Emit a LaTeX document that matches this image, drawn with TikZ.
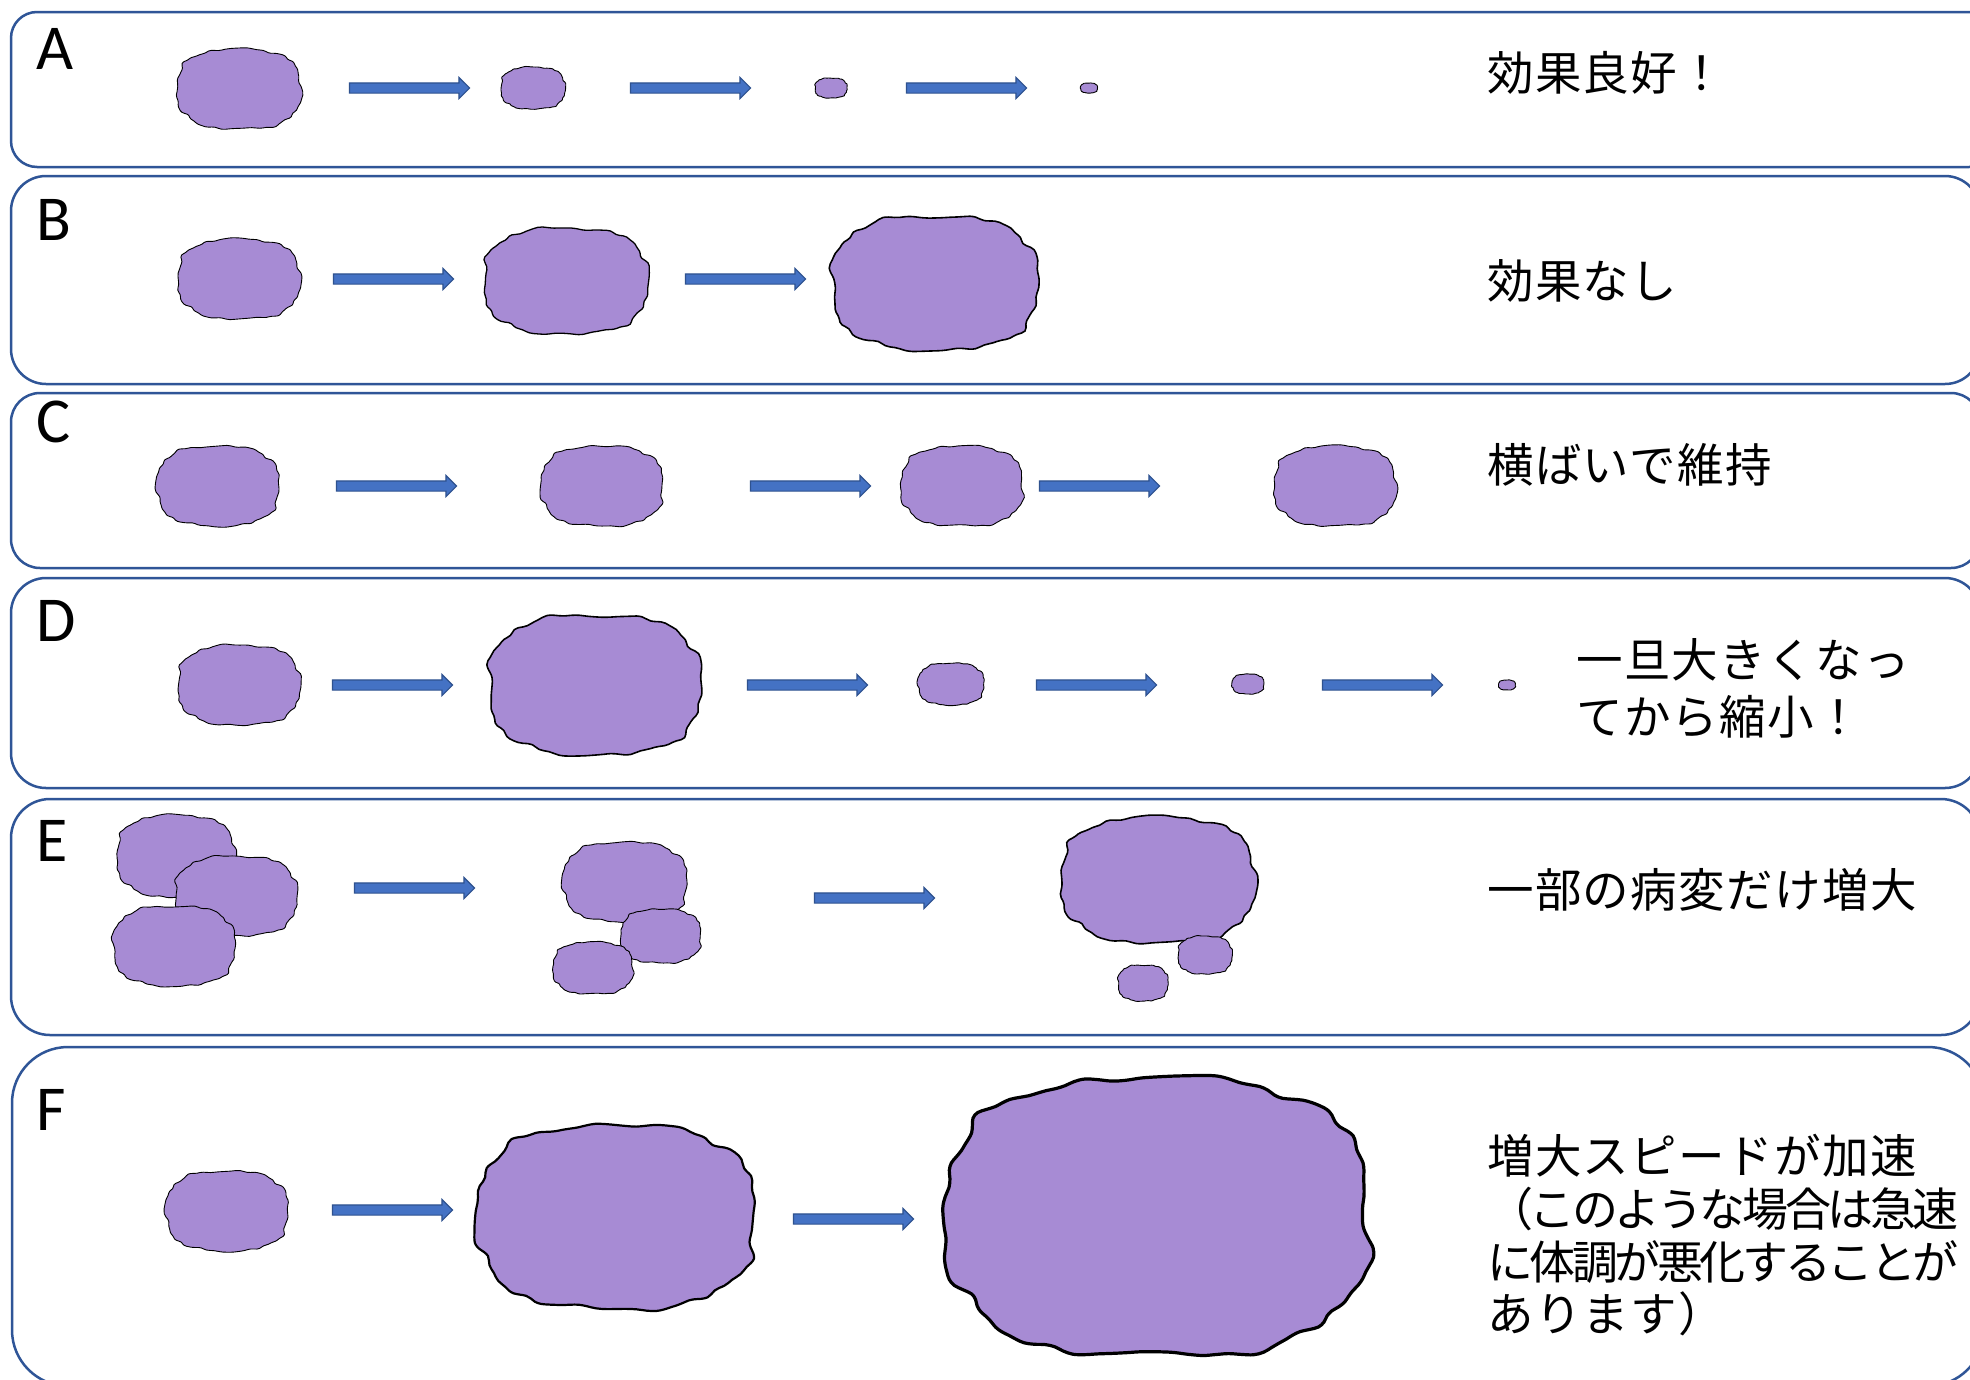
\documentclass[tikz,border=0pt]{standalone}
\usepackage{fontspec}
\usetikzlibrary{shapes.arrows}

\newfontfamily\jpfont[LetterSpace=3]{Noto Sans CJK JP}
\newfontfamily\jpnarrow[LetterSpace=-7.5]{Noto Sans CJK JP}
\newfontfamily\tagfont{Carlito}

\definecolor{lesionfill}{RGB}{167,139,212}
\definecolor{panelblue}{RGB}{47,85,151}
\definecolor{arrowfill}{RGB}{68,114,196}
\definecolor{arrowedge}{RGB}{47,82,143}

\tikzset{
  panel/.style={draw=panelblue, line width=2.5pt},
  lesion/.style={fill=lesionfill, draw=black, line width=0.9pt, line join=round},
  growth/.style={single arrow, draw=arrowedge, fill=arrowfill, line width=1.1pt,
    inner xsep=0pt, inner ysep=4.5pt, minimum height=120pt,
    single arrow head extend=5.5pt, single arrow tip angle=90},
  tag/.style={anchor=base west, inner sep=0pt, font=\tagfont\fontsize{64}{64}\selectfont},
  note/.style={anchor=base west, inner sep=0pt, font=\jpfont\fontsize{46.5}{53}\selectfont},
  notenarrow/.style={anchor=base west, inner sep=0pt, font=\jpnarrow\fontsize{46}{53}\selectfont},
}

% irregular lesion outline: squarish ellipse with a wavy rim
% #1 extra style, #2 cx, #3 cy, #4 half width, #5 half height, #6 phase
\newcommand{\rim}[1]{(1+0.017*sin(7*\t+#1)+0.013*sin(12*\t+2*#1)+0.009*sin(19*\t+3*#1)+0.006*sin(29*\t+5*#1))}
\newcommand{\lesion}[6][]{%
  \draw[lesion,#1] plot[smooth cycle, tension=0.6, variable=\t, domain=1.5:358.5, samples=120]
    ({#2 + #4*cos(\t)*pow(abs(cos(\t)),-0.25)*\rim{#6}},
     {#3 + #5*sin(\t)*pow(abs(sin(\t)),-0.25)*\rim{#6}});
}

\begin{document}
\begin{tikzpicture}[x=1pt, y=-1pt]
\useasboundingbox (0,0) rectangle (1970,1379);
\clip (0,0) rectangle (1970,1379);
\fill[white] (0,0) rectangle (1970,1379);

% panels
\draw[panel, rounded corners=26pt] (11,12) rectangle (1995,167);
\draw[panel, rounded corners=35pt] (11,176) rectangle (1980,384);
\draw[panel, rounded corners=29pt] (11,393) rectangle (1980,568);
\draw[panel, rounded corners=35pt] (11,578) rectangle (1980,788);
\draw[panel, rounded corners=39pt] (11,799) rectangle (1980,1035);
\draw[panel, rounded corners=56pt] (12,1047) rectangle (1984,1386);

% panel letters
\node[tag] (labA) at (36,69) {A};
\node[tag] (labB) at (36,240) {B};
\node[tag] (labC) at (36,442) {C};
\node[tag] (labD) at (36,641) {D};
\node[tag] (labE) at (36,861) {E};
\node[tag] (labF) at (36,1130) {F};

% A: shrinks steadily
\lesion{239}{89}{62}{40}{10}
\lesion{533}{88}{32}{21}{70}
\lesion{831}{88}{16}{10}{130}
\lesion{1089}{88}{8.5}{5}{200}
\node[growth] (arA1) at (407,88) {};
\node[growth] (arA2) at (688,88) {};
\node[growth] (arA3) at (964,88) {};
\node[note] (tA) at (1487,90) {効果良好！};

% B: keeps growing
\lesion{239}{279}{61}{40}{40}
\lesion[line width=1.3pt]{566}{281}{82}{53}{100}
\lesion[line width=1.6pt]{935}{283}{103}{67}{160}
\node[growth] (arB1) at (391,279) {};
\node[growth] (arB2) at (743,279) {};
\node[note] (tB) at (1487,298) {効果なし};

% C: stable
\lesion{218}{486}{61}{40}{220}
\lesion{602}{486}{61}{40}{280}
\lesion{962}{486}{61}{40}{330}
\lesion{1335}{486}{61}{40}{20}
\node[growth] (arC1) at (394,486) {};
\node[growth] (arC2) at (808,486) {};
\node[growth] (arC3) at (1097,486) {};
\node[note] (tC) at (1487,482) {横ばいで維持};

% D: grows first, then shrinks
\lesion{239}{685}{61}{40}{80}
\lesion[line width=1.6pt]{595}{685}{106}{70}{140}
\lesion{951}{684}{33}{21}{200}
\lesion{1248}{684}{16}{10}{260}
\lesion{1507}{685}{8.5}{5}{320}
\node[growth] (arD1) at (390,685) {};
\node[growth] (arD2) at (805,685) {};
\node[growth] (arD3) at (1094,685) {};
\node[growth] (arD4) at (1380,685) {};
\node[note] (tD1) at (1576,677) {一旦大きくなっ};
\node[note] (tD2) at (1576,734) {てから縮小！};

% E: only some lesions grow
\lesion{176}{856}{59}{41}{50}
\lesion{236}{896}{61}{40}{110}
\lesion{174}{946}{61}{40}{170}
\lesion{625}{882}{62}{40}{230}
\lesion{661}{936}{40}{27}{290}
\lesion{593}{968}{40}{26}{350}
\lesion[line width=1.6pt]{1158}{880}{97}{63}{30}
\lesion{1205}{955}{27}{19}{90}
\lesion{1143}{983}{25}{18}{150}
\node[growth] (arE1) at (412,888) {};
\node[growth] (arE2) at (872,898) {};
\node[note] (tE) at (1487,907) {一部の病変だけ増大};

% F: growth accelerates
\lesion{227}{1211}{61}{40}{210}
\lesion[line width=2.2pt]{616}{1217}{139}{92}{270}
\lesion[line width=3.2pt]{1157}{1217}{212}{139}{330}
\node[growth] (arF1) at (390,1210) {};
\node[growth] (arF2) at (851,1219) {};
\node[note] (tF1) at (1487,1173) {増大スピードが加速};
\node[notenarrow] (tF2) at (1487,1226) {（このような場合は急速};
\node[notenarrow] (tF3) at (1487,1279) {に体調が悪化することが};
\node[note] (tF4) at (1487,1331) {あります）};
\end{tikzpicture}
\end{document}
